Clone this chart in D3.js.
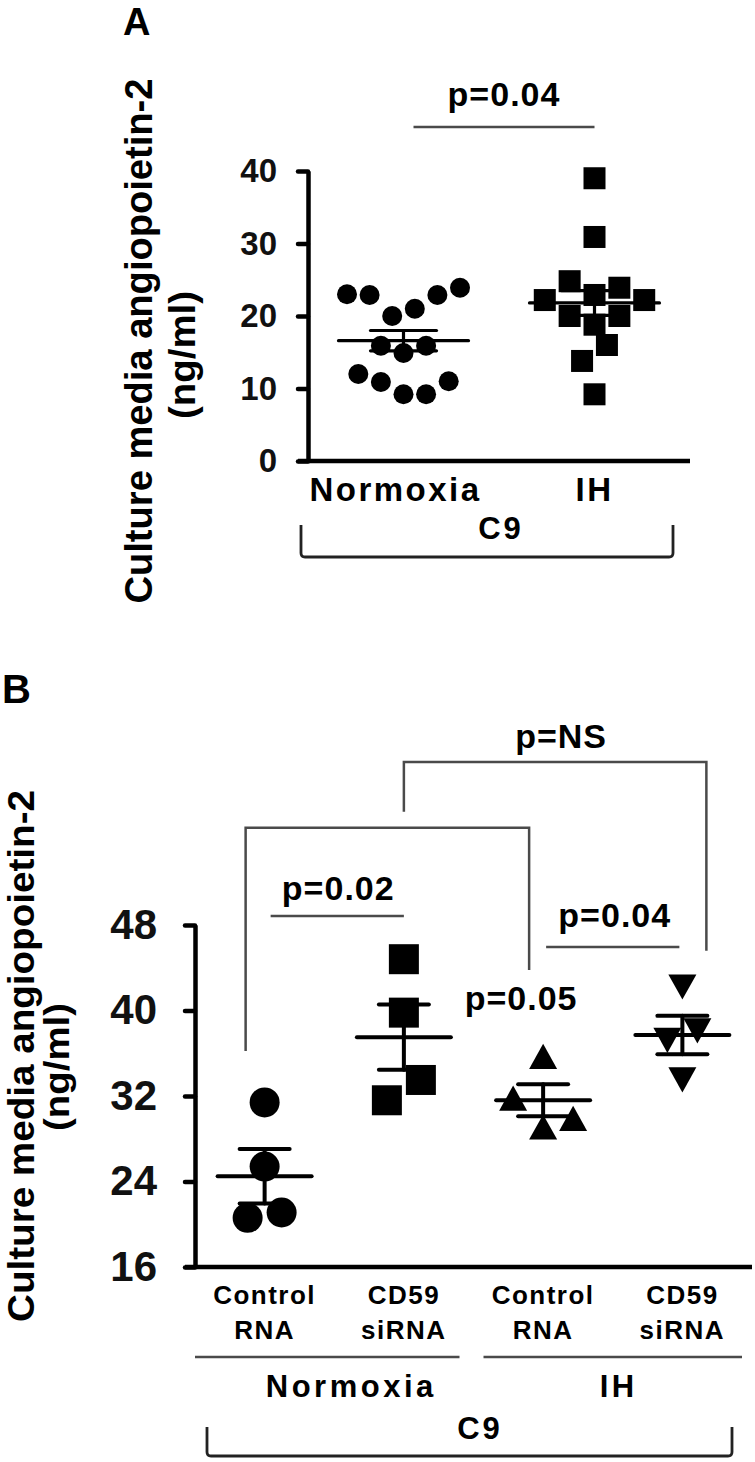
<!DOCTYPE html>
<html>
<head>
<meta charset="utf-8">
<title>Culture media angiopoietin-2</title>
<script src="https://cdn.jsdelivr.net/npm/d3@7"></script>
<style>
  body { margin: 0; background: #fff; }
  svg { font-family: "Liberation Sans", Arial, sans-serif; font-weight: bold; }
</style>
</head>
<body>
<script>
// ---- panel A data ----
const catsA = ["Normoxia", "IH"];
const normoxiaA = [22.9, 22.9, 20.0, 21.0, 23.0, 23.9, 15.9, 14.9, 15.9, 12.0, 10.9, 9.2, 9.2, 11.0];
const ihA = [39.0, 30.9, 24.8, 23.9, 22.9, 22.2, 22.2, 20.0, 20.0, 18.8, 16.0, 13.8, 9.2];
const meanA = [16.6, 21.8];
const semA = [1.4, 1.7];
const ticksA = [0, 10, 20, 30, 40];

// ---- panel B data ----
const catsB = [["Control", "RNA"], ["CD59", "siRNA"], ["Control", "RNA"], ["CD59", "siRNA"]];
const groupsB = ["Normoxia", "IH"];
const ctrlNormB = [31.4, 25.4, 21.1, 20.6];
const siNormB = [44.8, 39.8, 33.5, 31.6];
const ctrlIHB = [35.7, 31.8, 29.9, 29.1];
const siIHB = [42.2, 38.1, 37.2, 33.5];
const meanB = [24.5, 37.5, 31.6, 37.7];
const semB = [2.55, 3.05, 1.5, 1.8];
const ticksB = [16, 24, 32, 40, 48];

const svg = d3.select("body").append("svg")
  .attr("width", 755).attr("height", 1462);

// prism-like scatter layout: bin by value, lowest point in the middle, others alternate outwards
function swarm(values, binSize, step) {
  const sorted = values.slice().sort((a, b) => a - b);
  const out = [];
  let bin = [];
  const flush = () => {
    const n = bin.length;
    bin.forEach((v, k) => {
      let off;
      if (n % 2) off = k === 0 ? 0 : (k % 2 ? 1 : -1) * Math.ceil(k / 2);
      else off = (k % 2 ? 1 : -1) * (Math.floor(k / 2) + 0.5);
      out.push({ v: v, off: off * step });
    });
    bin = [];
  };
  sorted.forEach(v => {
    if (bin.length && v - bin[0] >= binSize) flush();
    bin.push(v);
  });
  flush();
  return out;
}

function marker(g, shape, cx, cy, s) {
  if (shape === "circle") {
    g.append("circle").attr("cx", cx).attr("cy", cy).attr("r", s / 2);
  } else if (shape === "square") {
    g.append("rect").attr("x", cx - s / 2).attr("y", cy - s / 2).attr("width", s).attr("height", s);
  } else {
    const w = s, h = s * 0.9, d = shape === "up" ? 1 : -1;
    g.append("path").attr("d",
      `M${cx},${cy - d * h / 2}L${cx + w / 2},${cy + d * h / 2}L${cx - w / 2},${cy + d * h / 2}Z`);
  }
}

function errorBar(g, cx, y, mean, sem, meanW, capW, sw) {
  const lines = [
    [cx - meanW / 2, y(mean), cx + meanW / 2, y(mean)],
    [cx - capW / 2, y(mean + sem), cx + capW / 2, y(mean + sem)],
    [cx - capW / 2, y(mean - sem), cx + capW / 2, y(mean - sem)],
    [cx, y(mean + sem), cx, y(mean - sem)]
  ];
  g.selectAll(null).data(lines).enter().append("line")
    .attr("x1", d => d[0]).attr("y1", d => d[1]).attr("x2", d => d[2]).attr("y2", d => d[3])
    .attr("stroke", "#000").attr("stroke-width", sw).attr("stroke-linecap", "round");
}

function yAxis(g, y, ticks, x0, fontSize, pad) {
  const ax = g.append("g").attr("transform", `translate(${x0},0)`)
    .call(d3.axisLeft(y).tickValues(ticks).tickSize(10).tickSizeOuter(0).tickPadding(pad));
  ax.attr("font-size", fontSize).attr("font-family", null);
  ax.select(".domain").attr("stroke", "#000").attr("stroke-width", 4.5);
  ax.selectAll(".tick line").attr("stroke", "#000").attr("stroke-width", 4.5).attr("stroke-linecap", "round");
  ax.selectAll(".tick text").attr("fill", "#111").style("font-size", fontSize + "px");
}

function sigLine(g, x1, x2, yy) {
  g.append("line").attr("x1", x1).attr("x2", x2).attr("y1", yy).attr("y2", yy)
    .attr("stroke", "#4a4a4a").attr("stroke-width", 2.5);
}

function sigText(g, x, yy, label) {
  g.append("text").attr("x", x).attr("y", yy).attr("text-anchor", "middle")
    .style("font-size", "34px").style("letter-spacing", "1px").text(label);
}

function bottomBracket(g, x0, x1, top, bottom) {
  g.append("path")
    .attr("d", `M${x0},${top}L${x0},${bottom - 4}Q${x0},${bottom} ${x0 + 4},${bottom}L${x1 - 4},${bottom}Q${x1},${bottom} ${x1},${bottom - 4}L${x1},${top}`)
    .attr("fill", "none").attr("stroke", "#222").attr("stroke-width", 2.8);
}

function yTitle(g, x, yc, len, size, label) {
  g.append("text").attr("transform", `translate(${x},${yc}) rotate(-90)`)
    .attr("text-anchor", "middle").style("font-size", size + "px")
    .attr("textLength", len).attr("lengthAdjust", "spacingAndGlyphs").text(label);
}

// ================= Panel A =================
const gA = svg.append("g");
const yA = d3.scaleLinear().domain([0, 40]).range([461, 171]);
const xA = d3.scaleBand().domain(catsA).range([308, 690]);
const cxA = c => xA(c) + xA.bandwidth() / 2;

gA.append("text").attr("x", 123).attr("y", 35).style("font-size", "38px").text("A");
yTitle(gA, 152, 341, 525, 38, "Culture media angiopoietin-2");
yTitle(gA, 195, 355, 128, 36, "(ng/ml)");

yAxis(gA, yA, ticksA, 308, 33, 21);
gA.append("line").attr("x1", 298).attr("x2", 690).attr("y1", yA(0)).attr("y2", yA(0))
  .attr("stroke", "#000").attr("stroke-width", 4.5);

const seriesA = [
  { cat: catsA[0], vals: normoxiaA, shape: "circle", size: 20 },
  { cat: catsA[1], vals: ihA, shape: "square", size: 22 }
];
seriesA.forEach((s, i) => {
  const g = gA.append("g").attr("fill", "#000");
  swarm(s.vals, 4, s.size * 1.13).forEach(p => marker(g, s.shape, cxA(s.cat) + p.off, yA(p.v), s.size));
  errorBar(gA, cxA(s.cat), yA, meanA[i], semA[i], 130, 66, 3.2);
});

gA.selectAll(null).data(catsA).enter().append("text")
  .attr("x", d => cxA(d) - 8 * (d === catsA[0])).attr("y", 501).attr("text-anchor", "middle")
  .style("font-size", "33px").style("letter-spacing", "2.5px").text(d => d);
gA.append("text").attr("x", (cxA(catsA[0]) + cxA(catsA[1])) / 2 + 2).attr("y", 539)
  .attr("text-anchor", "middle").style("font-size", "31px").style("letter-spacing", "3px").text("C9");
bottomBracket(gA, 301, 673, 525, 557);

sigLine(gA, cxA(catsA[0]) + 10, cxA(catsA[1]), yA(46.07));
sigText(gA, (cxA(catsA[0]) + 10 + cxA(catsA[1])) / 2, yA(49.0), "p=0.04");

// ================= Panel B =================
const gB = svg.append("g");
const yB = d3.scaleLinear().domain([16, 48]).range([1267, 925]);
const xB = d3.scaleBand().domain(d3.range(catsB.length)).range([195, 752]);
const cxB = i => xB(i) + xB.bandwidth() / 2;

gB.append("text").attr("x", 2).attr("y", 703).style("font-size", "40px").text("B");
yTitle(gB, 34, 1056, 532, 36, "Culture media angiopoietin-2");
yTitle(gB, 69, 1067, 128, 35, "(ng/ml)");

yAxis(gB, yB, ticksB, 195, 42, 28);
gB.append("line").attr("x1", 185).attr("x2", 752).attr("y1", yB(16)).attr("y2", yB(16))
  .attr("stroke", "#000").attr("stroke-width", 4.5);

const seriesB = [
  { vals: ctrlNormB, shape: "circle", size: 30 },
  { vals: siNormB, shape: "square", size: 30 },
  { vals: ctrlIHB, shape: "up", size: 28 },
  { vals: siIHB, shape: "down", size: 28 }
];
seriesB.forEach((s, i) => {
  const g = gB.append("g").attr("fill", "#000");
  const step = s.shape === "up" || s.shape === "down" ? 30 : 34;
  swarm(s.vals, 3.5, step).forEach(p => marker(g, s.shape, cxB(i) + p.off, yB(p.v), s.size));
  errorBar(gB, cxB(i), yB, meanB[i], semB[i], 94, 50, 4);
});

// category labels (two lines each)
catsB.forEach((lines, i) => {
  const t = gB.append("text").attr("text-anchor", "middle").style("font-size", "26px").style("letter-spacing", "1.5px");
  lines.forEach((l, k) => t.append("tspan").attr("x", cxB(i)).attr("y", 1304 + k * 35).text(l));
});

// group underlines and names
const grpSpan = [[xB(0), xB(1) + xB.bandwidth() - 14], [xB(2) + 10, xB(3) + xB.bandwidth() - 10]];
groupsB.forEach((name, k) => {
  const [a, b] = grpSpan[k];
  sigLine(gB, a, b, 1357);
  gB.append("text").attr("x", (cxB(2 * k) + cxB(2 * k + 1)) / 2 + (k ? 6 : 17)).attr("y", 1397)
    .attr("text-anchor", "middle").style("font-size", "31px").style("letter-spacing", "3.5px").text(name);
});
gB.append("text").attr("x", 480).attr("y", 1439).attr("text-anchor", "middle")
  .style("font-size", "31px").style("letter-spacing", "3px").text("C9");
bottomBracket(gB, 207, 732, 1427, 1456);

// comparison brackets
function openBracket(g, xl, yl, xr, yr, top) {
  g.append("path").attr("d", `M${xl},${yB(yl)}L${xl},${yB(top)}L${xr},${yB(top)}L${xr},${yB(yr)}`)
    .attr("fill", "none").attr("stroke", "#4a4a4a").attr("stroke-width", 2.5);
}
openBracket(gB, cxB(0) - 19, 36.2, cxB(2) - 14, 43.8, 57.1);
openBracket(gB, cxB(1), 58.6, cxB(3) + 24, 45.6, 63.25);
sigText(gB, (cxB(1) + cxB(3) + 24) / 2 + 6, yB(64.6), "p=NS");

sigLine(gB, cxB(0) + 6, cxB(1), yB(48.85));
sigText(gB, (cxB(0) + 6 + cxB(1)) / 2 + 1, yB(50.3), "p=0.02");
sigLine(gB, cxB(2) + 3, cxB(3) - 3, yB(45.95));
sigText(gB, (cxB(2) + cxB(3)) / 2 + 2, yB(47.8), "p=0.04");
sigText(gB, cxB(2) - 22, yB(40.05), "p=0.05");
</script>
</body>
</html>
